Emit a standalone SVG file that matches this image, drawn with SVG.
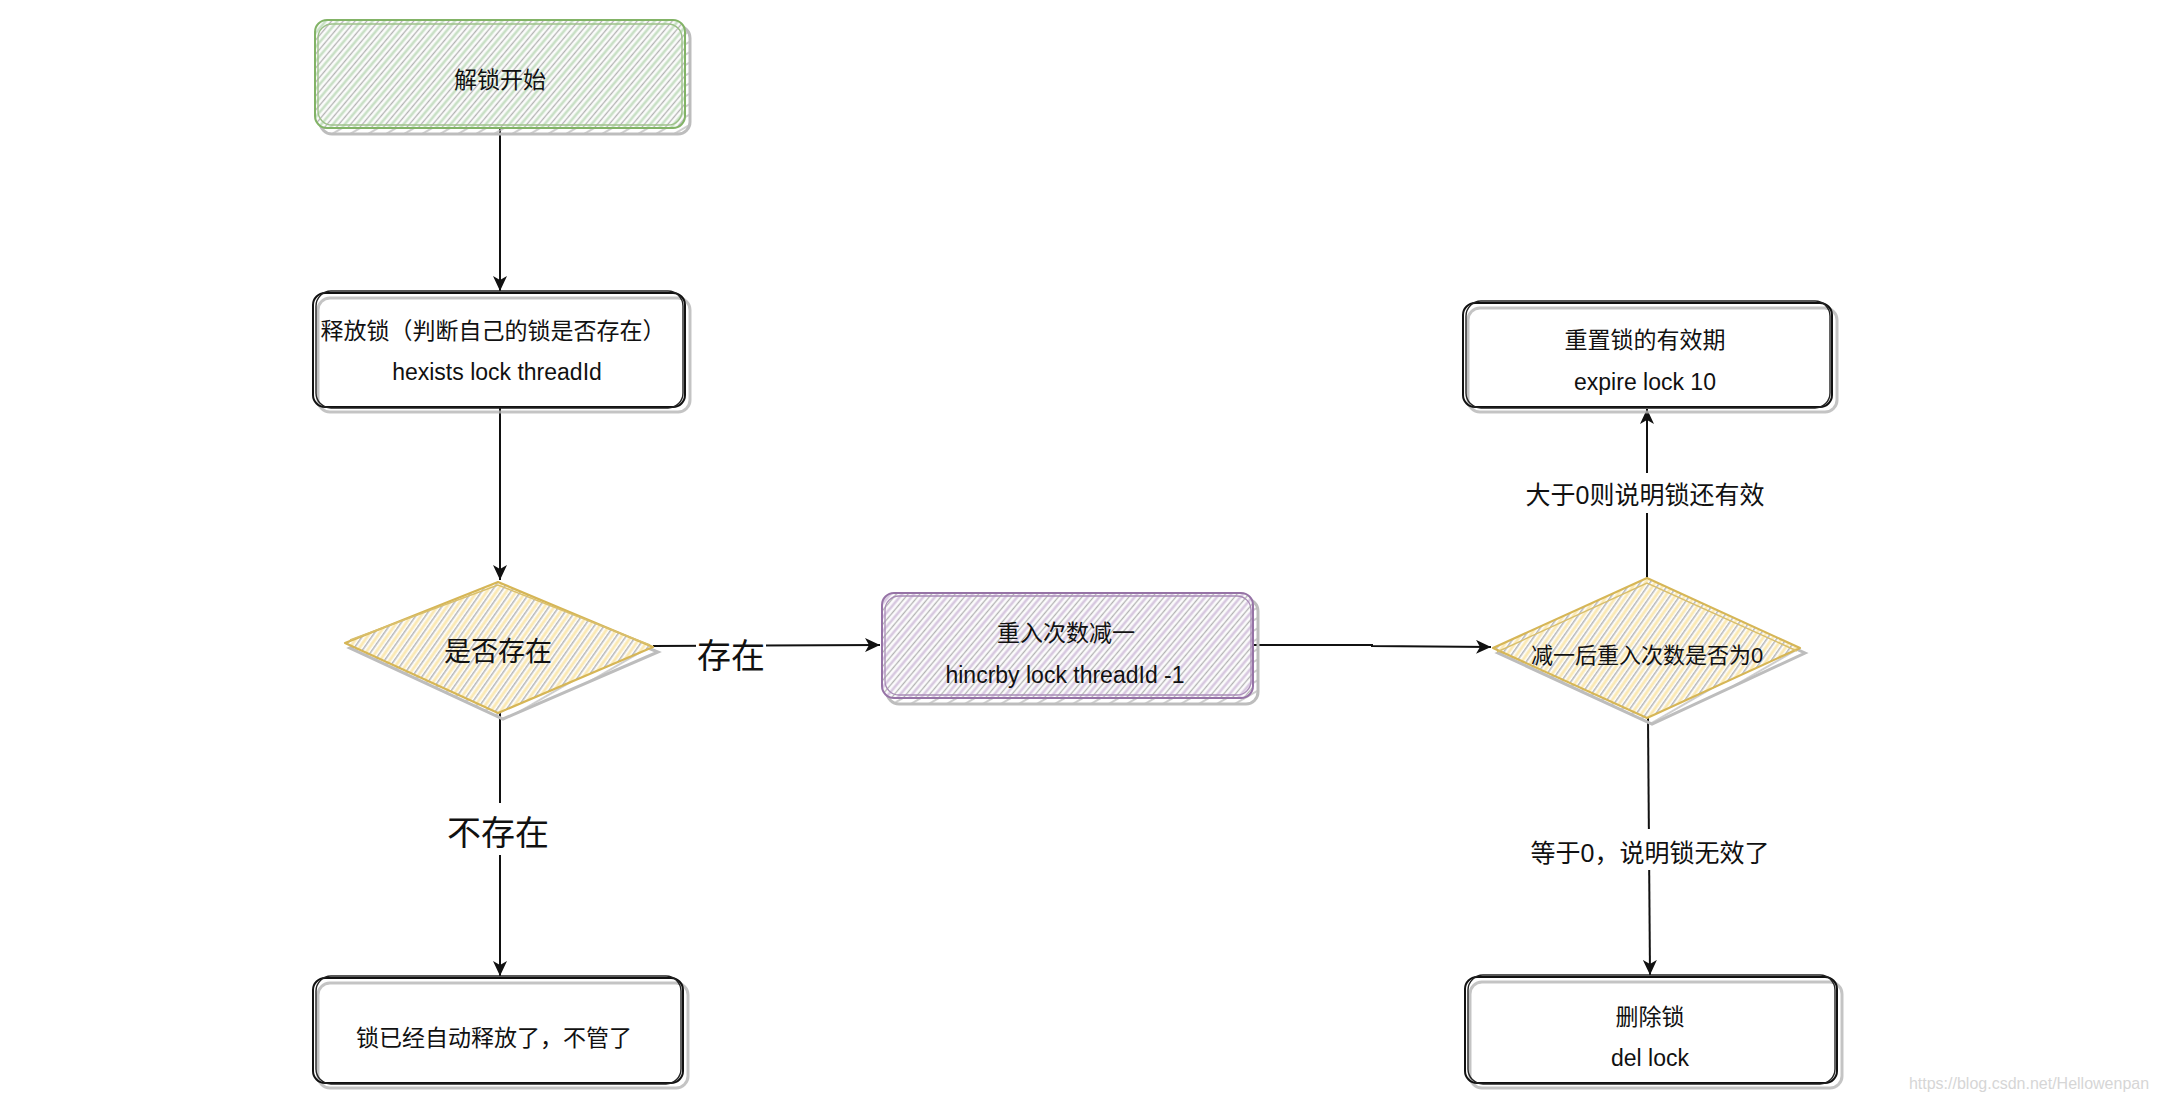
<svg xmlns="http://www.w3.org/2000/svg" width="2158" height="1102" viewBox="0 0 2158 1102">
<style>
.t{font-family:"Liberation Sans","Noto Sans CJK SC",sans-serif;fill:#111;text-anchor:middle}
.f23{font-size:23px}
.lbl{font-size:25px}
.big{font-size:34px}
.ink{fill:none;stroke:#111;stroke-width:2;stroke-linejoin:round}
.ink2{fill:none;stroke:#222;stroke-width:1.4}
.shadow{fill:none;stroke:#b5b5b5;stroke-width:3;opacity:.8}
.conn{fill:none;stroke:#111;stroke-width:2}
.bg{fill:#fff}
</style>
<defs>
<pattern id="hG" patternUnits="userSpaceOnUse" width="9" height="9" patternTransform="rotate(40)">
<rect width="9" height="9" fill="#fff"/>
<line x1="2" y1="0" x2="2" y2="9" stroke="#c9e0c6" stroke-width="2.8"/>
<line x1="6.5" y1="0" x2="6.5" y2="9" stroke="#b3b3b3" stroke-width="1.4"/>
</pattern>
<pattern id="hP" patternUnits="userSpaceOnUse" width="9" height="9" patternTransform="rotate(40)">
<rect width="9" height="9" fill="#fff"/>
<line x1="2" y1="0" x2="2" y2="9" stroke="#d8c9e0" stroke-width="2.8"/>
<line x1="6.5" y1="0" x2="6.5" y2="9" stroke="#b3b3b3" stroke-width="1.4"/>
</pattern>
<pattern id="hY" patternUnits="userSpaceOnUse" width="8" height="8" patternTransform="rotate(35)">
<rect width="8" height="8" fill="#fff"/>
<line x1="2" y1="0" x2="2" y2="8" stroke="#fbe9b4" stroke-width="3"/>
<line x1="5.8" y1="0" x2="5.8" y2="8" stroke="#b0b0b0" stroke-width="1.4"/>
</pattern>
<pattern id="hS" patternUnits="userSpaceOnUse" width="9" height="9" patternTransform="rotate(60)">
<line x1="3" y1="0" x2="3" y2="9" stroke="#bdbdbd" stroke-width="1.5"/>
</pattern>
<marker id="arr" markerUnits="userSpaceOnUse" markerWidth="16" markerHeight="14" refX="15" refY="7" orient="auto">
<path d="M0,0 L15,7 L0,14 L4,7 Z" fill="#111"/>
</marker>
</defs>

<g id="connectors">
<line class="conn" x1="500" y1="128" x2="500" y2="291" marker-end="url(#arr)"/>
<line class="conn" x1="500" y1="407" x2="500" y2="580" marker-end="url(#arr)"/>
<line class="conn" x1="500" y1="713" x2="500" y2="976" marker-end="url(#arr)"/>
<line class="conn" x1="653" y1="646" x2="880" y2="645" marker-end="url(#arr)"/>
<polyline class="conn" points="1253,645 1372,645 1372,646 1491,647" marker-end="url(#arr)"/>
<line class="conn" x1="1647" y1="578" x2="1647" y2="409" marker-end="url(#arr)"/>
<line class="conn" x1="1648" y1="718" x2="1650" y2="975" marker-end="url(#arr)"/>
<g id="labels">
<rect class="bg" x="446" y="803" width="106" height="52"/>
<text class="t big" x="498" y="845">不存在</text>
<rect class="bg" x="696" y="630" width="70" height="40"/>
<text class="t big" x="731" y="668">存在</text>
<rect class="bg" x="1520" y="473" width="252" height="40"/>
<text class="t lbl" x="1645" y="504">大于0则说明锁还有效</text>
<rect class="bg" x="1525" y="829" width="250" height="41"/>
<text class="t lbl" x="1650" y="862">等于0，说明锁无效了</text>
</g>
</g>

<g id="n-start">
<rect x="320" y="26" width="370" height="108" rx="12" fill="url(#hS)" stroke="#bdbdbd" stroke-width="3"/>
<rect x="315" y="20" width="370" height="108" rx="12" fill="url(#hG)"/>
<rect x="315" y="20" width="370" height="108" rx="12" fill="none" stroke="#82b366" stroke-width="2"/>
<rect x="318" y="24" width="364" height="101" rx="14" fill="none" stroke="#9dc189" stroke-width="1.4"/>
<text class="t f23" x="500" y="88">解锁开始</text>
</g>

<g id="n-release">
<rect x="318" y="298" width="372" height="114" rx="12" class="shadow"/>
<rect x="313" y="293" width="372" height="114" rx="12" fill="#fff" class="ink"/>
<rect x="316" y="291" width="367" height="117" rx="15" class="ink2"/>
<text class="t f23" x="493" y="339">释放锁（判断自己的锁是否存在）</text>
<text class="t f23" x="497" y="380">hexists lock threadId</text>
</g>

<g id="n-exists">
<polygon points="350,648 503,588 658,652 503,719" fill="url(#hS)" stroke="#bdbdbd" stroke-width="3"/>
<polygon points="345,643 498,582 653,647 498,713" fill="url(#hY)"/>
<polygon points="345,643 498,582 653,647 498,713" fill="none" stroke="#d6b656" stroke-width="2.2" stroke-linejoin="round"/>
<polyline points="350,640 498,585 650,645" fill="none" stroke="#d9bf6d" stroke-width="1.4"/>
<text class="t" style="font-size:27px" x="498" y="661">是否存在</text>
</g>

<g id="n-decr">
<rect x="887" y="599" width="371" height="105" rx="12" fill="url(#hS)" stroke="#bdbdbd" stroke-width="3"/>
<rect x="882" y="593" width="371" height="105" rx="12" fill="url(#hP)"/>
<rect x="882" y="593" width="371" height="105" rx="12" fill="none" stroke="#9673a6" stroke-width="2"/>
<rect x="885" y="596" width="366" height="99" rx="14" fill="none" stroke="#a88bb6" stroke-width="1.3"/>
<text class="t f23" x="1066" y="641">重入次数减一</text>
<text class="t f23" x="1065" y="683">hincrby lock threadId -1</text>
</g>

<g id="n-zero">
<polygon points="1498,653 1652,584 1805,653 1652,724" fill="url(#hS)" stroke="#bdbdbd" stroke-width="3"/>
<polygon points="1493,648 1647,578 1800,648 1647,718" fill="url(#hY)"/>
<polygon points="1493,648 1647,578 1800,648 1647,718" fill="none" stroke="#d6b656" stroke-width="2.2" stroke-linejoin="round"/>
<polyline points="1497,652 1647,583 1797,651" fill="none" stroke="#d9bf6d" stroke-width="1.4"/>
<text class="t" style="font-size:22px" x="1647" y="663">减一后重入次数是否为0</text>
</g>

<g id="n-expire">
<rect x="1468" y="308" width="369" height="104" rx="12" class="shadow"/>
<rect x="1463" y="303" width="369" height="104" rx="12" fill="#fff" class="ink"/>
<rect x="1466" y="301" width="364" height="107" rx="15" class="ink2"/>
<text class="t f23" x="1645" y="348">重置锁的有效期</text>
<text class="t f23" x="1645" y="390">expire lock 10</text>
</g>

<g id="n-del">
<rect x="1470" y="982" width="372" height="106" rx="12" class="shadow"/>
<rect x="1465" y="977" width="372" height="106" rx="12" fill="#fff" class="ink"/>
<rect x="1468" y="975" width="367" height="109" rx="15" class="ink2"/>
<text class="t f23" x="1650" y="1025">删除锁</text>
<text class="t f23" x="1650" y="1066">del lock</text>
</g>

<g id="n-auto">
<rect x="318" y="983" width="370" height="105" rx="12" class="shadow"/>
<rect x="313" y="978" width="370" height="105" rx="12" fill="#fff" class="ink"/>
<rect x="316" y="976" width="365" height="108" rx="15" class="ink2"/>
<text class="t f23" x="494" y="1046">锁已经自动释放了，不管了</text>
</g>

<text x="2029" y="1089" style="font-family:'Liberation Sans',sans-serif;font-size:16px;fill:#d6d6d6;text-anchor:middle">https://blog.csdn.net/Hellowenpan</text>
</svg>
